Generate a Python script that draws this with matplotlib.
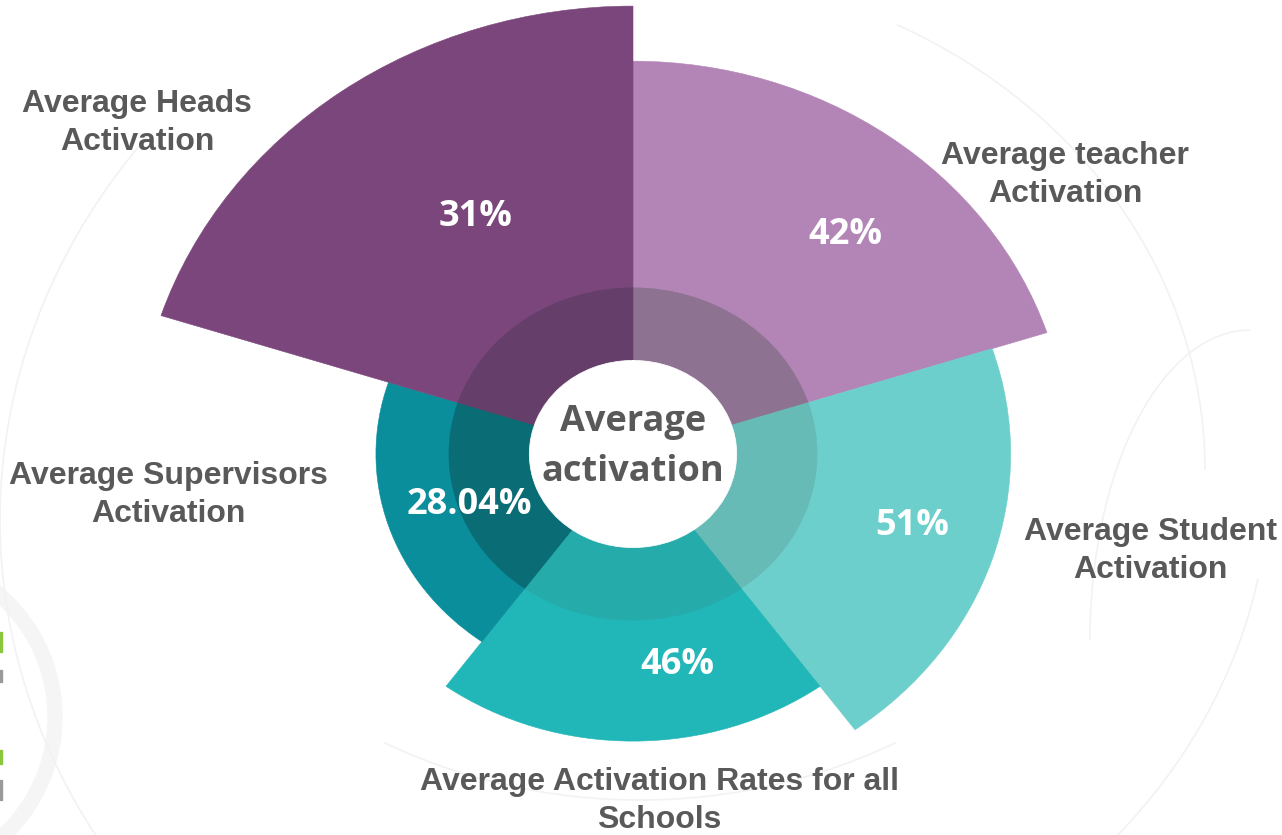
import matplotlib
matplotlib.use("Agg")
import matplotlib.pyplot as plt
import numpy as np
from matplotlib.patches import Arc, Rectangle

# ---------------- data ----------------
categories = ["Average teacher\nActivation",
              "Average Student\nActivation",
              "Average Activation Rates for all\nSchools",
              "Average Supervisors\nActivation",
              "Average Heads\nActivation"]
value_labels = ["42%", "51%", "46%", "28.04%", "31%"]
# radial length of each sector as drawn (relative units, Heads = 100)
sector_radius = [87.7, 76.1, 64.1, 51.8, 100.0]
ring_radius = 37.1
hole_radius = 20.9
center_text = "Average\nactivation"

# ---------------- styles ----------------
outer_colors = ["#B385B7", "#6CCFCB", "#21B6B8", "#0A8E9C", "#7B467B"]
inner_colors = ["#8E7291", "#67BBB6", "#26ABAB", "#0A6C75", "#653F69"]
label_color = "#595959"
# value label placement (theta deg clockwise from north, r)
value_pos = [(41.1, 65.0), (106.0, 58.5), (169.3, 48.0), (250.9, 34.8), (329.0, 61.6)]
# category label centres in pixels (x, y from top)
cat_pos = [(1065, 175), (1150, 551), (659, 801), (168, 495), (137, 123)]

W, H = 1282, 835
fig = plt.figure(figsize=(W / 100, H / 100), dpi=100)
fig.patch.set_facecolor("white")

# ---- faint background decoration ----
bg = fig.add_axes([0, 0, 1, 1], zorder=-5)
bg.set_xlim(0, W)
bg.set_ylim(H, 0)
bg.set_axis_off()
arc_kw = dict(color="#F2F2F2", lw=1.2)
bg.add_patch(Arc((-107, 717), 2 * 162, 2 * 162, theta1=-90, theta2=90, color="#F5F5F5", lw=11))
bg.add_patch(Arc((700, 520), 1400, 1250, theta1=150, theta2=215, **arc_kw))
bg.add_patch(Arc((640, 470), 1130, 1000, theta1=300, theta2=360, **arc_kw))
bg.add_patch(Arc((640, 470), 1260, 1120, theta1=10, theta2=60, **arc_kw))
bg.add_patch(Arc((1250, 640), 320, 620, theta1=180, theta2=270, **arc_kw))
bg.add_patch(Arc((640, 300), 1100, 1000, theta1=60, theta2=120, **arc_kw))
for (y0, hh, c) in [(632, 20, "#8CC63F"), (670, 12, "#9A9A9A"), (750, 14, "#8CC63F"), (780, 20, "#9A9A9A")]:
    bg.add_patch(Rectangle((0, y0), 2, hh, color=c))

# ---- polar chart (slightly wider than tall, like the reference) ----
rmax = 102.7
cx, cy = 633, 454          # centre in pixels (from top)
ry_pix = 460.0
rx_pix = ry_pix * 1.108
ax = fig.add_axes([(cx - rx_pix) / W, (H - cy - ry_pix) / H,
                   2 * rx_pix / W, 2 * ry_pix / H], projection="polar")
ax.set_aspect("auto")
ax.set_theta_zero_location("N")
ax.set_theta_direction(-1)
ax.set_ylim(0, rmax)
ax.set_axis_off()

n = len(sector_radius)
width = 2 * np.pi / n
theta = np.arange(n) * width
ax.bar(theta, sector_radius, width=width, align="edge", bottom=0,
       color=outer_colors, edgecolor=outer_colors, linewidth=0.4, zorder=1)
ax.bar(theta, [ring_radius] * n, width=width, align="edge", bottom=0,
       color=inner_colors, edgecolor=inner_colors, linewidth=0.4, zorder=2)
ax.bar([0], [hole_radius], width=2 * np.pi, align="edge", bottom=0,
       color="white", edgecolor="white", linewidth=0.5, zorder=3)

vfont = ["Open Sans", "DejaVu Sans"]
ax.text(0, 1.6, center_text, ha="center", va="center", fontsize=26,
        fontweight="bold", family=vfont, color=label_color,
        linespacing=1.5, zorder=5)

for lab, (tdeg, r) in zip(value_labels, value_pos):
    ax.text(np.deg2rad(tdeg), r, lab, ha="center", va="center", fontsize=26,
            fontweight="bold", family=vfont, color="white", zorder=5)

for lab, (px, py) in zip(categories, cat_pos):
    fig.text(px / W, 1 - py / H, lab, ha="center", va="center", fontsize=23,
             fontweight="bold", family=["Liberation Sans", "DejaVu Sans"],
             color=label_color, linespacing=1.32)

fig.savefig("out.png", dpi=100, facecolor="white")
